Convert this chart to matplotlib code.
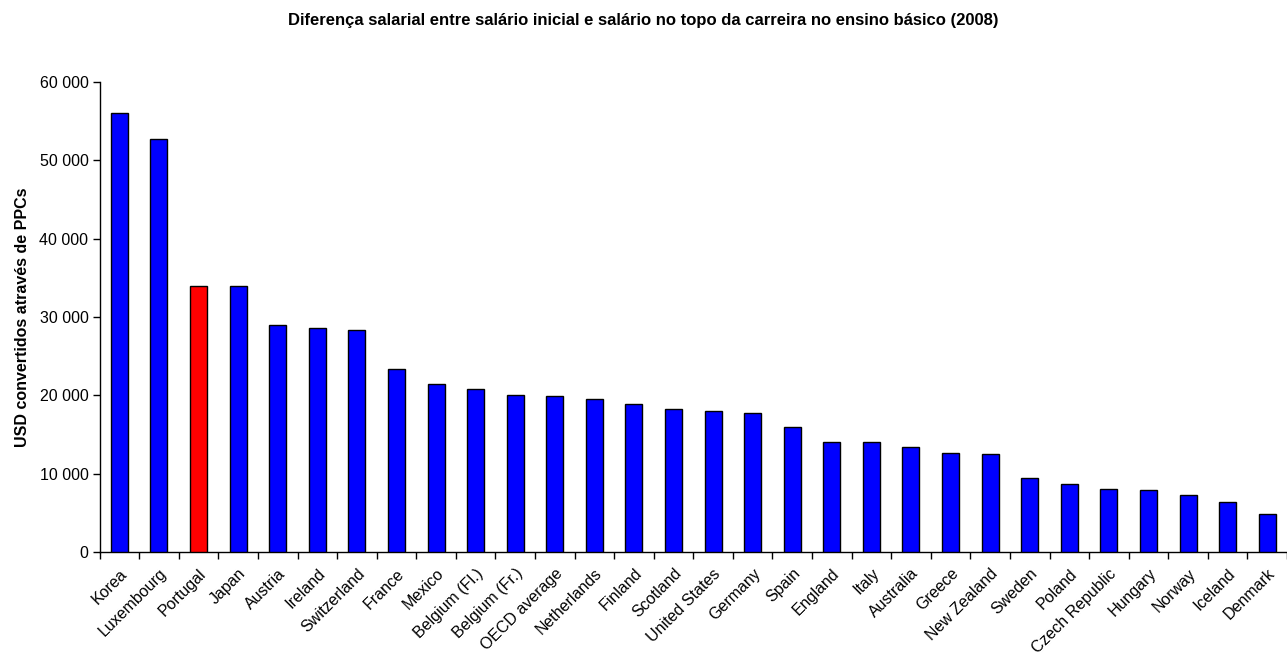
import matplotlib
matplotlib.use("Agg")
import matplotlib.pyplot as plt
import numpy as np

countries = ["Korea", "Luxembourg", "Portugal", "Japan", "Austria", "Ireland", "Switzerland",
             "France", "Mexico", "Belgium (Fl.)", "Belgium (Fr.)", "OECD average", "Netherlands",
             "Finland", "Scotland", "United States", "Germany", "Spain", "England", "Italy",
             "Australia", "Greece", "New Zealand", "Sweden", "Poland", "Czech Republic",
             "Hungary", "Norway", "Iceland", "Denmark"]
values = [56000, 52700, 33900, 33900, 29000, 28600, 28300, 23400, 21400, 20800, 20100, 19900,
          19500, 18900, 18200, 18000, 17800, 15900, 14000, 14000, 13400, 12700, 12500, 9400,
          8700, 8100, 7900, 7300, 6400, 4900]
highlight = "Portugal"
yticks = [0, 10000, 20000, 30000, 40000, 50000, 60000]
ytick_labels = ["0", "10 000", "20 000", "30 000", "40 000", "50 000", "60 000"]

plt.rcParams['font.family'] = ['Liberation Sans', 'DejaVu Sans']

fig = plt.figure(figsize=(12.87, 6.54), dpi=100)
left_px, right_px = 99.6, 1287
ax = fig.add_axes([left_px/1287, 1-552/654, (right_px-left_px)/1287, (552-82)/654])

n = len(countries)
x = np.arange(n)
colors = ["#FF0000" if c == highlight else "#0000FF" for c in countries]
ax.bar(x, values, width=0.43, color=colors, edgecolor="black", linewidth=1.0, zorder=3)

spacing = 39.86
ax.set_xlim(-0.5, -0.5 + (right_px - left_px) / spacing)
ax.set_ylim(0, 60000)
ax.set_yticks(yticks)
ax.set_yticklabels(ytick_labels, fontsize=11.5)
ax.set_xticks(x)
ax.set_xticklabels(countries, rotation=45, ha="right", rotation_mode="anchor", fontsize=11.5)
ax.tick_params(axis="x", length=0, pad=10)
ax.set_xticks(np.arange(-0.5, n, 1.0), minor=True)
ax.tick_params(axis="x", which="minor", length=5, direction="out", width=1)
ax.tick_params(axis="y", length=5, direction="out", width=1, pad=3)

for s in ["top", "right"]:
    ax.spines[s].set_visible(False)
for s in ["left", "bottom"]:
    ax.spines[s].set_linewidth(1)

ax.set_ylabel("USD convertidos através de PPCs", fontsize=11.5, fontweight="bold", labelpad=7)
fig.text(0.5, 1 - 20/654, "Diferença salarial entre salário inicial e salário no topo da carreira no ensino básico (2008)",
         ha="center", va="center", fontsize=12, fontweight="bold")

fig.savefig("out.png", dpi=100)
